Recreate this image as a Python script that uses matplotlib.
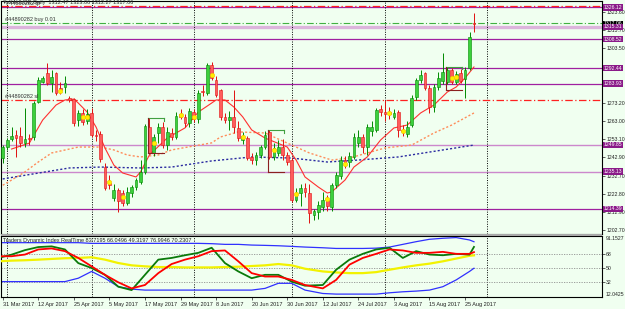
import matplotlib
matplotlib.use('Agg')
import matplotlib.pyplot as plt
import matplotlib.transforms as mtransforms
from matplotlib.patches import Rectangle

plt.rcParams['font.family'] = ['Liberation Sans', 'DejaVu Sans']

BG = '#f0fff0'

# daily bars, bar 0 = 31 Mar 2017, last bar = 29 Aug 2017
opens = [1242.6, 1249.0, 1253.0, 1255.4, 1254.8, 1251.0, 1253.5, 1254.4, 1273.7, 1285.0,
         1289.6, 1284.0, 1289.7, 1281.2, 1282.0, 1276.0, 1275.3, 1263.7, 1267.6, 1263.0,
         1267.6, 1255.6, 1255.7, 1237.6, 1228.5, 1220.4, 1224.9, 1223.2, 1217.7, 1223.2,
         1226.5, 1229.3, 1234.9, 1259.8, 1245.4, 1256.5, 1259.8, 1249.9, 1256.5, 1254.3,
         1267.0, 1265.4, 1262.0, 1268.0, 1264.3, 1279.8, 1278.7, 1294.2, 1286.0, 1280.3,
         1265.4, 1263.7, 1265.4, 1259.3, 1252.6, 1253.7, 1243.2, 1241.5, 1244.3, 1248.7,
         1257.1, 1243.2, 1245.4, 1248.7, 1244.3, 1241.5, 1219.3, 1223.2, 1226.0, 1223.3,
         1211.0, 1212.7, 1215.4, 1219.3, 1215.4, 1227.6, 1232.7, 1241.5, 1240.4, 1243.2,
         1251.0, 1254.3, 1248.7, 1257.7, 1258.2, 1269.8, 1268.1, 1268.0, 1265.4, 1268.1,
         1258.3, 1256.0, 1261.0, 1276.4, 1285.9, 1289.7, 1281.4, 1271.0, 1282.0, 1285.4,
         1284.8, 1291.4, 1285.0, 1289.5, 1286.5, 1292.6, 1317.5]
highs = [1250.0, 1253.7, 1260.0, 1258.0, 1259.8, 1270.4, 1256.0, 1274.0, 1287.5, 1288.0,
         1295.3, 1291.4, 1290.5, 1284.5, 1288.0, 1277.0, 1276.0, 1269.2, 1270.0, 1269.8,
         1270.4, 1258.0, 1257.5, 1240.0, 1233.0, 1228.0, 1226.0, 1225.0, 1226.5, 1227.5,
         1231.5, 1241.5, 1261.5, 1264.8, 1256.0, 1262.0, 1262.5, 1260.0, 1259.0, 1268.0,
         1270.0, 1267.0, 1270.4, 1270.0, 1280.3, 1283.0, 1295.3, 1296.0, 1288.0, 1281.0,
         1267.5, 1268.7, 1280.3, 1263.0, 1257.0, 1255.0, 1245.5, 1246.0, 1250.0, 1257.5,
         1258.2, 1251.0, 1252.6, 1253.0, 1246.0, 1243.0, 1226.0, 1228.0, 1228.5, 1228.0,
         1214.5, 1219.0, 1224.0, 1222.0, 1229.0, 1235.0, 1243.5, 1244.0, 1246.0, 1256.5,
         1258.2, 1256.0, 1261.5, 1263.0, 1270.5, 1272.0, 1274.8, 1271.0, 1270.0, 1269.5,
         1261.0, 1263.0, 1277.5, 1287.0, 1291.4, 1290.5, 1283.0, 1283.5, 1290.5, 1300.8,
         1293.0, 1292.5, 1291.0, 1292.0, 1293.0, 1312.5, 1323.06]
lows = [1239.9, 1247.0, 1252.0, 1243.0, 1249.0, 1249.0, 1250.0, 1252.6, 1273.0, 1284.0,
        1283.0, 1279.0, 1277.5, 1278.0, 1278.7, 1273.5, 1260.3, 1260.3, 1261.0, 1261.5,
        1254.0, 1252.0, 1240.5, 1225.0, 1225.5, 1219.0, 1212.7, 1216.0, 1216.4, 1221.0,
        1225.0, 1228.0, 1233.5, 1245.0, 1244.0, 1250.9, 1248.0, 1247.0, 1252.5, 1253.0,
        1264.0, 1260.0, 1259.8, 1262.5, 1262.0, 1277.0, 1277.5, 1286.0, 1276.5, 1263.7,
        1262.0, 1258.2, 1256.5, 1252.0, 1250.5, 1241.5, 1239.5, 1239.0, 1242.5, 1247.5,
        1242.0, 1241.5, 1244.0, 1241.5, 1238.5, 1218.0, 1218.0, 1216.0, 1221.0, 1206.5,
        1208.2, 1209.0, 1213.0, 1213.5, 1213.0, 1226.0, 1231.0, 1237.0, 1237.5, 1242.0,
        1249.0, 1245.5, 1244.5, 1255.0, 1257.0, 1266.0, 1263.0, 1264.5, 1264.0, 1254.0,
        1255.0, 1254.5, 1260.0, 1275.0, 1284.0, 1280.3, 1267.6, 1268.0, 1280.5, 1283.5,
        1283.5, 1283.8, 1283.5, 1284.0, 1275.9, 1291.5, 1312.27]
closes = [1249.0, 1252.6, 1254.8, 1253.7, 1251.0, 1253.0, 1253.0, 1273.0, 1286.0, 1287.0,
          1284.0, 1287.5, 1278.7, 1280.6, 1284.0, 1275.0, 1262.0, 1267.6, 1262.6, 1267.0,
          1255.4, 1255.0, 1242.3, 1226.0, 1227.5, 1224.9, 1219.0, 1217.7, 1223.8, 1226.5,
          1230.4, 1234.9, 1260.4, 1245.4, 1254.3, 1259.8, 1249.9, 1257.1, 1254.3, 1266.0,
          1265.5, 1262.0, 1268.6, 1264.0, 1278.7, 1279.0, 1294.2, 1287.0, 1277.6, 1265.4,
          1263.7, 1265.4, 1259.8, 1253.7, 1254.8, 1242.6, 1241.5, 1244.3, 1248.7, 1255.4,
          1243.2, 1248.2, 1248.7, 1244.3, 1240.4, 1219.3, 1223.2, 1226.0, 1223.8, 1212.1,
          1213.2, 1216.5, 1219.3, 1216.0, 1227.6, 1233.2, 1241.5, 1239.9, 1243.7, 1254.3,
          1254.3, 1248.7, 1259.8, 1259.8, 1269.2, 1268.1, 1267.0, 1267.2, 1267.6, 1258.2,
          1257.8, 1259.8, 1276.0, 1285.9, 1288.7, 1281.4, 1271.0, 1282.0, 1287.0, 1290.3,
          1291.4, 1284.8, 1289.0, 1285.5, 1291.4, 1309.7, 1317.06]

# yellow marker dots
dot_idx = [13, 18, 19, 24, 27, 34, 40, 43, 47, 54, 61, 66, 73, 77, 87, 90, 101, 102]
dot_price = [1279.8, 1265.4, 1265.4, 1229.3, 1221.0, 1250.9, 1266.5, 1265.4, 1288.7,
             1254.3, 1247.1, 1222.7, 1219.9, 1239.3, 1267.6, 1257.6, 1287.0, 1287.6]

# inside-bar brackets
br_start = [33, 60, 100]
br_end = [36, 63, 103]
br_top = [1264.8, 1258.2, 1293.3]
br_bot = [1245.4, 1235.0, 1280.3]

# moving averages
ma_fast_x = [2, 6, 9, 12, 14, 16, 17, 19, 21, 23, 25, 27, 30, 31, 33, 37, 41, 44, 47, 48,
             50, 52, 54, 56, 59, 64, 66, 68, 71, 73, 74, 77, 79, 82, 85, 88, 91, 94, 97,
             100, 102, 104, 106]
ma_fast_y = [1247.6, 1250.9, 1263.7, 1272.0, 1274.8, 1275.3, 1273.1, 1268.1, 1259.8, 1248.2,
             1238.7, 1234.3, 1232.1, 1234.9, 1244.3, 1253.7, 1259.3, 1268.1, 1273.1, 1274.8,
             1274.8, 1270.9, 1265.4, 1258.2, 1253.7, 1248.7, 1241.5, 1232.1, 1226.5, 1223.2,
             1223.8, 1230.4, 1237.6, 1243.2, 1252.6, 1259.3, 1260.9, 1267.6, 1272.0, 1279.2,
             1282.0, 1287.0, 1293.1]
ma_mid_x = [0, 2, 5, 8, 11, 15, 17, 22, 25, 28, 31, 35, 38, 43, 47, 49, 53, 59, 64, 69,
            74, 78, 82, 86, 92, 97, 101, 106]
ma_mid_y = [1227.5, 1230.4, 1234.9, 1240.4, 1245.4, 1247.6, 1248.7, 1248.7, 1247.1, 1244.3,
            1243.2, 1244.3, 1247.1, 1249.3, 1251.0, 1254.3, 1257.1, 1256.5, 1250.9, 1245.4,
            1241.5, 1242.6, 1245.4, 1248.2, 1249.8, 1256.5, 1260.9, 1267.6]
ma_slow_x = [0, 15, 22, 31, 38, 47, 56, 65, 73, 80, 89, 106]
ma_slow_y = [1231.0, 1237.1, 1237.6, 1237.1, 1237.6, 1241.0, 1243.2, 1242.6, 1240.4, 1241.5,
             1243.2, 1249.8]

# horizontal levels and order lines
levels_dark = [1326.12, 1308.52, 1292.44, 1283.93, 1214.39]
levels_light = [1315.31, 1249.85, 1235.13]
tp_price = 1326.7
sl_price = 1274.8
entry_price = 1317.4
last_price = 1317.06
price_ticks = [1323.60, 1313.70, 1303.50, 1273.20, 1263.00, 1253.10,
               1242.90, 1232.70, 1222.80, 1212.90, 1202.70]

separators = [1, 20, 43, 65, 86, 109]
date_idx = [0, 8, 16, 24, 32, 40, 48, 56, 64, 72, 80, 88, 96, 104]
date_labels = ['31 Mar 2017', '12 Apr 2017', '25 Apr 2017', '5 May 2017', '17 May 2017',
               '29 May 2017', '8 Jun 2017', '20 Jun 2017', '30 Jun 2017', '12 Jul 2017',
               '24 Jul 2017', '3 Aug 2017', '15 Aug 2017', '25 Aug 2017']

# Traders Dynamic Index
tdi_x = [-1, 2, 5, 8, 11, 14, 17, 20, 23, 26, 29, 32, 35, 38, 41, 44, 47, 50, 53, 56, 59,
         62, 65, 68, 72, 75, 78, 81, 84, 87, 90, 93, 96, 99, 102, 105, 106]
tdi_green = [62.7, 67.0, 72.8, 76.8, 77.7, 73.7, 56.0, 49.6, 40.8, 25.4, 21.0, 40.8, 60.5,
             62.7, 66.2, 69.3, 75.9, 56.0, 45.2, 36.4, 40.8, 40.8, 32.0, 26.7, 27.6, 47.4,
             60.5, 68.0, 73.7, 75.9, 62.7, 71.5, 67.1, 66.2, 68.0, 67.0, 76.99]
tdi_red = [64.9, 64.9, 67.1, 73.7, 75.0, 71.5, 62.7, 51.8, 40.8, 31.1, 23.2, 27.6, 43.0,
           54.8, 60.5, 64.9, 71.5, 72.4, 58.3, 43.0, 38.6, 38.6, 34.2, 27.6, 23.2, 34.2,
           54.0, 62.7, 68.0, 73.7, 72.4, 69.3, 69.3, 70.6, 68.0, 68.0, 70.23]
tdi_yellow = [58.3, 59.2, 59.7, 60.5, 61.4, 62.3, 62.7, 63.6, 60.5, 56.1, 53.1, 51.8, 50.9,
              50.9, 50.4, 50.4, 50.4, 50.9, 51.3, 52.2, 53.1, 54.8, 53.1, 48.7, 45.2, 43.9,
              43.0, 43.0, 44.3, 47.4, 50.4, 53.1, 55.3, 58.3, 61.9, 65.5, 66.05]
tdi_upper = [82.5, 82.5, 82.5, 82.5, 82.5, 82.5, 82.5, 81.6, 81.6, 81.6, 81.6, 81.6, 81.6,
             81.6, 81.6, 81.6, 81.2, 80.3, 80.3, 79.4, 79.0, 78.5, 77.7, 76.8, 75.9, 75.0,
             75.0, 75.0, 75.4, 76.8, 80.3, 83.8, 86.9, 88.2, 89.1, 86.0, 83.72]
tdi_lower = [32.0, 32.0, 32.0, 32.0, 32.0, 32.0, 36.4, 45.2, 36.4, 25.4, 22.3, 21.0, 21.0,
             21.0, 21.0, 21.0, 21.0, 21.0, 21.0, 21.0, 23.2, 29.8, 29.8, 21.0, 16.6, 15.8,
             15.8, 15.8, 15.8, 17.5, 18.8, 19.7, 21.0, 25.4, 34.2, 45.2, 49.32]
tdi_levels = [68, 50, 32]
tdi_min, tdi_max = 12.0425, 91.1527

W, H = 625, 309
fig = plt.figure(figsize=(W / 100, H / 100), dpi=100, facecolor=BG)
ax = fig.add_axes([1 / W, (H - 234) / H, 601 / W, 233 / H], facecolor=BG)
ax_ind = fig.add_axes([1 / W, (H - 297) / H, 601 / W, 61 / H], facecolor=BG, sharex=ax)
fig.add_artist(Rectangle((1 / W, (H - 236) / H), 601 / W, 2 / H,
                         transform=fig.transFigure, color='#a8a8a8', lw=0))

ax.set_xlim(-0.38, 134.8)
ax.set_ylim(1200.47, 1329.7)
ax_ind.set_ylim(tdi_min, tdi_max)

# levels
for lv in levels_dark:
    ax.axhline(lv, color='#a020a0', lw=0.9, zorder=1)
ax.axhline(levels_light[0], color='#dcb4dc', lw=2.4, zorder=1)
for lv in levels_light[1:]:
    ax.axhline(lv, color='#cc88cc', lw=1.0, zorder=1)
ax.axhline(tp_price, color='#ff2020', lw=0.9, ls=(0, (6, 2, 1, 2)), zorder=2)
ax.axhline(sl_price, color='#ff2020', lw=0.9, ls=(0, (6, 2, 1, 2)), zorder=2)
ax.axhline(entry_price, color='#40b040', lw=0.8, ls=(0, (6, 2, 1, 2)), zorder=2)

for s in separators:
    ax.axvline(s, color='black', lw=0.7, ls=(0, (1, 1.5)), zorder=1)
    ax_ind.axvline(s, color='black', lw=0.7, ls=(0, (1, 1.5)), zorder=1)

# moving averages
ax.plot(ma_slow_x, ma_slow_y, color='#2a2aa0', lw=1.0, ls=(0, (1.5, 1.5)), zorder=2)
ax.plot(ma_mid_x, ma_mid_y, color='#ff8c5a', lw=1.0, ls=(0, (1.5, 1.5)), zorder=2)
ax.plot(ma_fast_x, ma_fast_y, color='#ff3030', lw=0.8, zorder=2)

# candles
for i in range(len(opens)):
    o, h, l, c = opens[i], highs[i], lows[i], closes[i]
    up = c >= o
    wick = '#008a00' if up else '#e01010'
    face = '#3cd03c' if up else '#ff5c5c'
    ax.vlines(i, l, h, color=wick, lw=0.7, zorder=3)
    bottom = min(o, c)
    height = max(abs(c - o), 0.4)
    ax.bar(i, height, bottom=bottom, width=0.62, color=face, edgecolor=wick,
           lw=0.4, zorder=4)

ax.plot(dot_idx, dot_price, 'o', ms=3.2, mfc='#ffee00', mec='#f0c000', mew=0.4, zorder=5)

for s, e, t, b in zip(br_start, br_end, br_top, br_bot):
    ax.plot([s - 0.3, e + 0.3], [t, t], color='#40a040', lw=0.8, zorder=5)
    ax.plot([e + 0.3, e + 0.3], [t, t - 1.5], color='#40a040', lw=0.8, zorder=5)
    ax.plot([s - 0.3, s - 0.3], [t, b], color='#8b2020', lw=0.8, zorder=5)
    ax.plot([s - 0.3, e + 0.3], [b, b], color='#8b2020', lw=0.8, zorder=5)

# texts in main chart
fs = 4.0
lfs = 3.7
ax.text(0.8, tp_price + 0.4, '#44890282 tp', fontsize=fs, color='#303030', va='bottom', zorder=6)
ax.text(-0.1, 1328.6, '\u25bc XAUUSD,Daily  1312.47 1323.06 1312.27 1317.06', fontsize=fs,
        color='#303030', va='center', zorder=6)
ax.text(0.6, entry_price + 0.5, '#44890282 buy 0.01', fontsize=fs, color='#303030',
        va='bottom', zorder=6)
ax.text(0.6, sl_price + 0.5, '#44890282 sl', fontsize=fs, color='#303030', va='bottom', zorder=6)

# price axis
ax.yaxis.tick_right()
ax.set_yticks(price_ticks)
ax.set_yticklabels([f'{p:.2f}' for p in price_ticks])
ax.tick_params(axis='y', direction='out', length=2, width=0.5, labelsize=lfs, pad=1,
               colors='#202020')
ax.tick_params(axis='x', bottom=False, labelbottom=False)

trans = mtransforms.blended_transform_factory(ax.transAxes, ax.transData)
ax.text(1.003, last_price, f'{last_price:.2f}', transform=trans, fontsize=lfs, color='white',
        va='center', ha='left', zorder=7, clip_on=False,
        bbox=dict(facecolor='black', edgecolor='none', pad=0.5))
for lv in [levels_dark[0], levels_light[0]] + levels_dark[1:] + levels_light[1:]:
    ax.text(1.003, lv, f'{lv:.2f}', transform=trans, fontsize=lfs, color='white',
            va='center', ha='left', zorder=8, clip_on=False,
            bbox=dict(facecolor='#8a1a88', edgecolor='none', pad=0.5))

# indicator
for lv in tdi_levels:
    ax_ind.axhline(lv, color='#909090', lw=0.6, ls=(0, (1.5, 1.5)), zorder=1)
ax_ind.plot(tdi_x, tdi_upper, color='#3030ff', lw=0.9, zorder=2)
ax_ind.plot(tdi_x, tdi_lower, color='#3030ff', lw=0.9, zorder=2)
ax_ind.plot(tdi_x, tdi_yellow, color='#f2f200', lw=1.6, zorder=3)
ax_ind.plot(tdi_x, tdi_green, color='#0a7a0a', lw=1.3, zorder=4)
ax_ind.plot(tdi_x, tdi_red, color='#ff0000', lw=1.3, zorder=5)
ax_ind.text(0.004, 0.97, 'Traders Dynamic Index RealTime 83.7195 66.0496 49.3197 76.9946 70.2307',
            transform=ax_ind.transAxes, fontsize=fs, color='#202020', va='top', zorder=6)

ax_ind.yaxis.tick_right()
ax_ind.set_yticks(tdi_levels)
ax_ind.set_yticklabels([str(v) for v in tdi_levels])
ax_ind.tick_params(axis='y', direction='out', length=2, width=0.5, labelsize=lfs, pad=1,
                   colors='#202020')
trans2 = mtransforms.blended_transform_factory(ax_ind.transAxes, ax_ind.transData)
ax_ind.text(1.006, tdi_max, f'{tdi_max:.4f}', transform=trans2, fontsize=lfs, color='#202020',
            va='top', ha='left', clip_on=False)
ax_ind.text(1.006, tdi_min, f'{tdi_min:.4f}', transform=trans2, fontsize=lfs, color='#202020',
            va='bottom', ha='left', clip_on=False)

ax_ind.set_xticks(date_idx)
ax_ind.set_xticklabels(date_labels)
ax_ind.tick_params(axis='x', direction='out', length=2, width=0.5, labelsize=fs, pad=1.5,
                   colors='#202020')
for lab in ax_ind.get_xticklabels():
    lab.set_ha('left')

for a in (ax, ax_ind):
    for sp in a.spines.values():
        sp.set_color('black')
        sp.set_linewidth(0.8)

fig.savefig('out.png', dpi=100, facecolor=BG)
